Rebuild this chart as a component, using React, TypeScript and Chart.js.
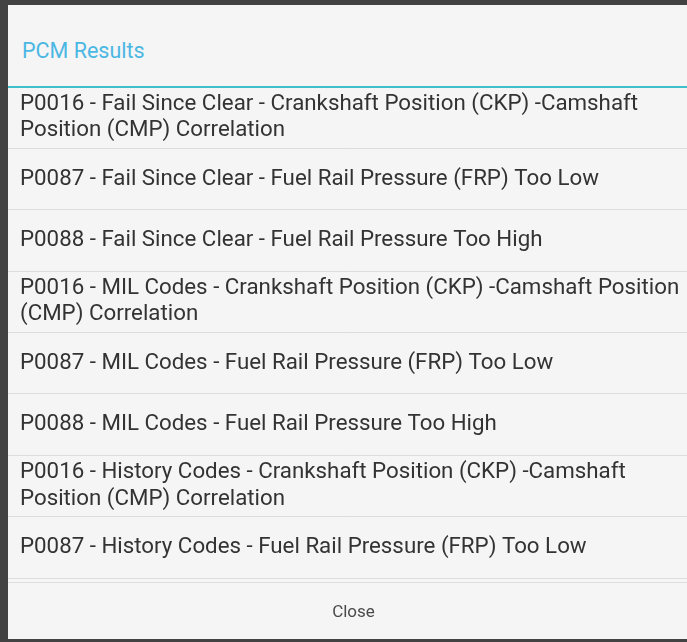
import React, { useEffect, useRef } from "react";
import { Chart, registerables } from "chart.js";

Chart.register(...registerables);

const dialogTitle = "PCM Results";
const buttonLabel = "Close";

const itemLabels: (string | string[])[] = [
  ["P0016 - Fail Since Clear - Crankshaft Position (CKP) -Camshaft", "Position (CMP) Correlation"],
  "P0087 - Fail Since Clear - Fuel Rail Pressure (FRP) Too Low",
  "P0088 - Fail Since Clear - Fuel Rail Pressure Too High",
  ["P0016 - MIL Codes - Crankshaft Position (CKP) -Camshaft Position", "(CMP) Correlation"],
  "P0087 - MIL Codes - Fuel Rail Pressure (FRP) Too Low",
  "P0088 - MIL Codes - Fuel Rail Pressure Too High",
  ["P0016 - History Codes - Crankshaft Position (CKP) -Camshaft", "Position (CMP) Correlation"],
  "P0087 - History Codes - Fuel Rail Pressure (FRP) Too Low",
];

const itemValues: (number | null)[] = [null, null, null, null, null, null, null, null];

const FONT = 'Roboto, "Noto Sans", sans-serif';

export default function App() {
  const canvasRef = useRef<HTMLCanvasElement | null>(null);

  useEffect(() => {
    if (!canvasRef.current) return;
    const chart = new Chart(canvasRef.current, {
      type: "bar",
      data: {
        labels: itemLabels,
        datasets: [
          {
            label: dialogTitle,
            data: itemValues,
            backgroundColor: "rgba(0,0,0,0)",
            borderWidth: 0,
          },
        ],
      },
      options: {
        indexAxis: "y",
        animation: false,
        responsive: true,
        maintainAspectRatio: false,
        layout: { padding: { top: 3, bottom: 5, left: 0, right: 0 } },
        plugins: {
          legend: { display: false },
          tooltip: { enabled: false },
          title: { display: false },
        },
        scales: {
          x: { display: false },
          y: {
            type: "category",
            position: "left",
            offset: true,
            border: { display: false },
            grid: {
              offset: true,
              drawTicks: false,
              color: (ctx: any) => (ctx.index === 0 ? "#3fbfcc" : "#dcdcdc"),
              lineWidth: (ctx: any) => (ctx.index === 0 ? 2 : 1),
            },
            ticks: {
              mirror: true,
              crossAlign: "near",
              padding: 12,
              autoSkip: false,
              color: "#333333",
              font: { family: FONT, size: 22.3, lineHeight: 1.17 },
            },
            afterFit: (scale: any) => {
              scale.width = 0;
              scale.paddingTop = 0;
              scale.paddingBottom = 0;
              scale.paddingLeft = 0;
              scale.paddingRight = 0;
            },
          },
        },
      },
    });
    return () => chart.destroy();
  }, []);

  return (
    <div
      style={{
        position: "fixed",
        left: 0,
        top: 0,
        width: 687,
        height: 642,
        background: "#424242",
        overflow: "hidden",
      }}
    >
      <div
        style={{
          position: "absolute",
          left: 8,
          top: 5,
          width: 679,
          height: 634,
          background: "#f5f5f5",
        }}
      >
        <div
          style={{
            position: "absolute",
            left: 14,
            top: 33,
            fontFamily: FONT,
            fontSize: 21.5,
            lineHeight: "25px",
            color: "#4bb7e3",
            whiteSpace: "nowrap",
          }}
        >
          {dialogTitle}
        </div>
        <div
          style={{
            position: "absolute",
            left: 0,
            top: 79,
            width: 679,
            height: 499,
          }}
        >
          <canvas ref={canvasRef} />
        </div>
        <div
          style={{
            position: "absolute",
            left: 0,
            top: 577,
            width: 679,
            height: 57,
            borderTop: "1px solid #dedede",
            boxSizing: "border-box",
            display: "flex",
            alignItems: "center",
            justifyContent: "center",
            paddingLeft: 12,
            fontFamily: FONT,
            fontSize: 17,
            color: "#4a4a4a",
          }}
        >
          {buttonLabel}
        </div>
      </div>
    </div>
  );
}
